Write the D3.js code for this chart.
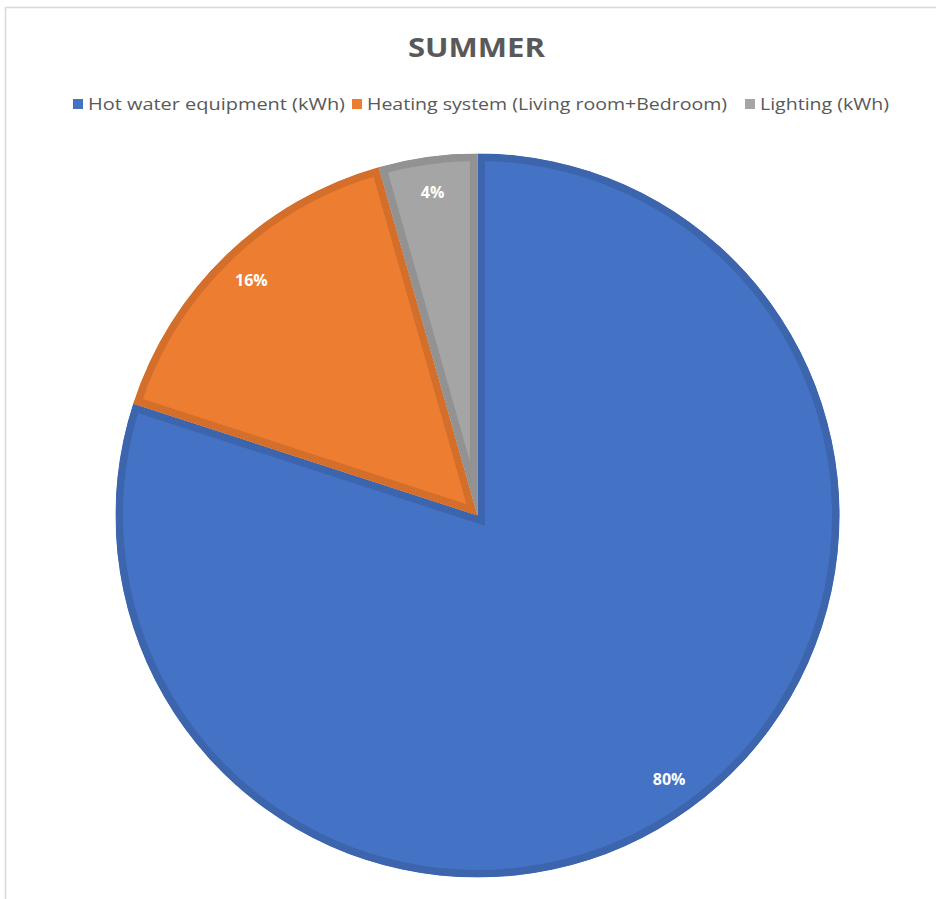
<!DOCTYPE html>
<html><head><meta charset="utf-8">
<script src="https://cdn.jsdelivr.net/npm/d3@7"></script>
<style>body{margin:0;background:#fff}svg{display:block}</style>
</head><body>
<script>
const title = "SUMMER";
const categories = ["Hot water equipment  (kWh)", "Heating system (Living room+Bedroom)", "Lighting (kWh)"];
const values = [80.0, 15.6, 4.4];
const labels = ["80%", "16%", "4%"];
const fills = ["#4472c4", "#ed7d31", "#a5a5a5"];
const borders = ["#3c65ae", "#d46f2b", "#929292"];

const W = 936, H = 899;
const svg = d3.select("body").append("svg").attr("width", W).attr("height", H);

// frame
svg.append("path").attr("d", `M5.5,${H} V7.5 H${W}`).attr("fill", "none").attr("stroke", "#d9d9d9").attr("stroke-width", 1.5);

svg.append("text").attr("x", 476.5).attr("y", 57).attr("text-anchor", "middle")
  .attr("font-family", "'Open Sans','Liberation Sans',sans-serif")
  .attr("font-weight", "bold").attr("font-size", 26).attr("fill", "#595959")
  .attr("textLength", 137).attr("lengthAdjust", "spacingAndGlyphs").text(title);

// legend
const legendX = [73, 352, 745];
const legendW = [257, 360, 129];
const lg = svg.append("g").attr("font-family", "'Open Sans','Liberation Sans',sans-serif")
  .attr("font-size", 17).attr("fill", "#595959");
categories.forEach((c, i) => {
  lg.append("rect").attr("x", legendX[i]).attr("y", 99).attr("width", 10).attr("height", 10).attr("fill", fills[i]);
  lg.append("text").attr("x", legendX[i] + 15).attr("y", 110).text(c)
    .attr("textLength", legendW[i]).attr("lengthAdjust", "spacingAndGlyphs");
});

const cx = 477.5, cy = 515.5, R = 362;
const pie = d3.pie().sort(null).value(d => d)(values);
const arc = d3.arc().innerRadius(0).outerRadius(R);
const labelArc = d3.arc().innerRadius(326).outerRadius(326);
const g = svg.append("g").attr("transform", `translate(${cx},${cy})`);
const defs = svg.append("defs");
pie.forEach((p, i) => {
  defs.append("clipPath").attr("id", "clip" + i).append("path").attr("d", arc(p));
  g.append("path").attr("d", arc(p)).attr("fill", fills[i])
    .attr("stroke", borders[i]).attr("stroke-width", 15).attr("stroke-linejoin", "miter")
    .attr("clip-path", `url(#clip${i})`);
});
pie.forEach((p, i) => {
  const [x, y] = labelArc.centroid(p);
  g.append("text").attr("x", x).attr("y", y).attr("dy", "0.35em").attr("text-anchor", "middle")
    .attr("font-family", "'Open Sans','Liberation Sans',sans-serif").attr("font-weight", "bold")
    .attr("font-size", 16).attr("fill", "#ffffff").text(labels[i]);
});
</script>
</body></html>
